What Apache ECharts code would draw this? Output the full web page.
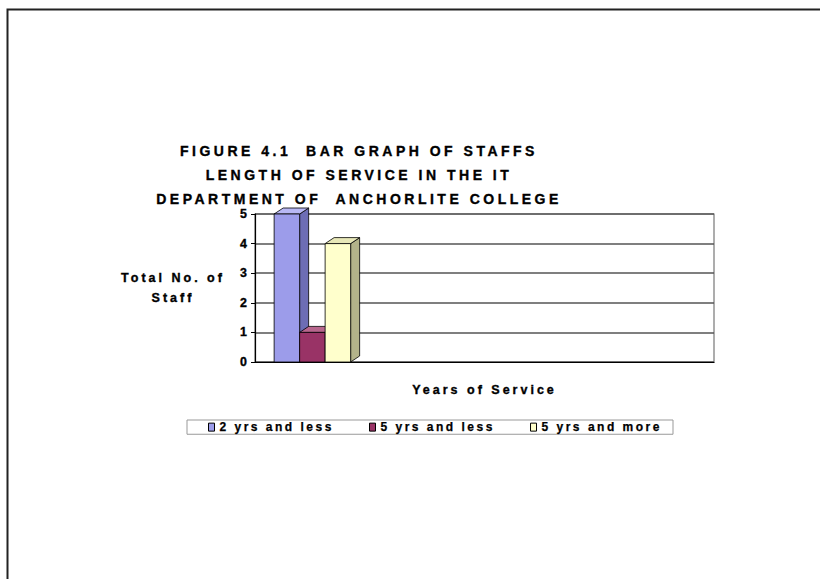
<!DOCTYPE html>
<html>
<head>
<meta charset="utf-8">
<script src="https://cdn.jsdelivr.net/npm/echarts@6/dist/echarts.min.js"></script>
<style>
  html, body { margin: 0; padding: 0; background: #fff; }
  #chart { width: 820px; height: 579px; }
  #chart text { white-space: pre; }
</style>
</head>
<body>
<div id="chart"></div>
<script>
// ---- data ----
const titleLines = ['FIGURE 4.1  BAR GRAPH OF STAFFS', 'LENGTH OF SERVICE IN THE IT', 'DEPARTMENT OF  ANCHORLITE COLLEGE'];
const categories = ['', '', '', ''];
const seriesNames = ['2 yrs and less', '5 yrs and less', '5 yrs and more'];
const staffCounts = [5, 1, 4];
const yTicks = [0, 1, 2, 3, 4, 5];
const yAxisName = 'Total No. of\nStaff';
const xAxisName = 'Years of Service';

// ---- styles ----
const FONT = 'Liberation Sans, Arial, Helvetica, sans-serif';
const palette = [
  { front: '#9C9CEA', side: '#6D6DB5', top: '#B8B8F5' },
  { front: '#993366', side: '#6B2447', top: '#B8668D' },
  { front: '#FFFFCC', side: '#B3B38A', top: '#E8E8B8' }
];
// letter spacing by font size (px)
const spacingBySize = { 14: 3.5, 12.5: 3, 12: 2.5 };

function makeRenderItem(idx) {
  const c = palette[idx];
  return function (params, api) {
    const topPt = api.coord([api.value(0), api.value(1)]);
    const basePt = api.coord([api.value(0), 0]);
    const catW = api.size([1, 0])[0];
    const w = catW / 4.5;
    const x0 = topPt[0] - 1.5 * w + idx * w;
    const x1 = x0 + w;
    const dx = 9, dy = 6;
    const yT = topPt[1], yB = basePt[1];
    const st = { stroke: '#000', lineWidth: 0.8 };
    return {
      type: 'group',
      children: [
        { type: 'polygon', shape: { points: [[x1, yB], [x1 + dx, yB - dy], [x1 + dx, yT - dy], [x1, yT]] },
          style: Object.assign({ fill: c.side }, st) },
        { type: 'polygon', shape: { points: [[x0, yT], [x0 + dx, yT - dy], [x1 + dx, yT - dy], [x1, yT]] },
          style: Object.assign({ fill: c.top }, st) },
        { type: 'rect', shape: { x: x0, y: yT, width: w, height: yB - yT },
          style: Object.assign({ fill: c.front }, st) }
      ]
    };
  };
}

const chart = echarts.init(document.getElementById('chart'), null, { renderer: 'svg' });

const boldText = { fontFamily: FONT, fontWeight: 'bold', color: '#000', textBorderColor: '#000', textBorderWidth: 0.35 };

const option = {
  backgroundColor: '#fff',
  animation: false,
  title: {
    text: titleLines.join('\n'),
    left: 359,
    top: 139,
    padding: 0,
    textAlign: 'center',
    textStyle: Object.assign({}, boldText, { fontSize: 14, lineHeight: 24 })
  },
  graphic: [
    { type: 'rect', silent: true, z: -1,
      shape: { x: 7.5, y: 9.5, width: 1000, height: 800 },
      style: { fill: 'none', stroke: '#222', lineWidth: 2 } }
  ],
  legend: {
    data: seriesNames,
    left: 187,
    top: 420,
    orient: 'horizontal',
    icon: 'rect',
    itemWidth: 6,
    itemHeight: 8,
    itemGap: 70,
    padding: [1, 46, 1, 21],
    borderColor: '#999',
    borderWidth: 1,
    itemStyle: { borderColor: '#000', borderWidth: 1 },
    textStyle: Object.assign({}, boldText, { fontSize: 12, textBorderWidth: 0.25 })
  },
  grid: {
    left: 255, right: 106, top: 214, bottom: 217,
    show: true, borderColor: '#777', borderWidth: 1.2, backgroundColor: '#fff'
  },
  xAxis: {
    type: 'category',
    data: categories,
    name: xAxisName,
    nameLocation: 'middle',
    nameGap: 21,
    nameTextStyle: Object.assign({}, boldText, { fontSize: 12.5 }),
    axisLine: { lineStyle: { color: '#000', width: 1.2 } },
    axisTick: { show: false },
    axisLabel: { show: false },
    splitLine: { show: false }
  },
  yAxis: {
    type: 'value',
    min: yTicks[0],
    max: yTicks[yTicks.length - 1],
    interval: 1,
    name: yAxisName,
    nameLocation: 'middle',
    nameRotate: 0,
    nameGap: 82,
    nameTextStyle: Object.assign({}, boldText, { fontSize: 12.5, align: 'center', lineHeight: 20, padding: [0, 0, 10, 0] }),
    axisLine: { show: true, lineStyle: { color: '#000', width: 1.2 } },
    axisTick: { show: true, length: 4, lineStyle: { color: '#000' } },
    axisLabel: Object.assign({}, boldText, { fontSize: 12.4, margin: 8 }),
    splitLine: { show: true, lineStyle: { color: '#555', width: 1.5 } }
  },
  series: seriesNames.map((name, i) => ({
    type: 'custom',
    name: name,
    itemStyle: { color: palette[i].front },
    encode: { x: 0, y: 1 },
    data: [[0, staffCounts[i]]],
    renderItem: makeRenderItem(i)
  }))
};

chart.setOption(option);

function applySpacing() {
  const texts = document.querySelectorAll('#chart svg text');
  texts.forEach(t => {
    const fs = parseFloat(getComputedStyle(t).fontSize);
    const ls = spacingBySize[fs] || 0;
    t.style.letterSpacing = ls + 'px';
  });
}
chart.on('finished', applySpacing);
setTimeout(applySpacing, 50);
setTimeout(applySpacing, 300);
</script>
</body>
</html>
